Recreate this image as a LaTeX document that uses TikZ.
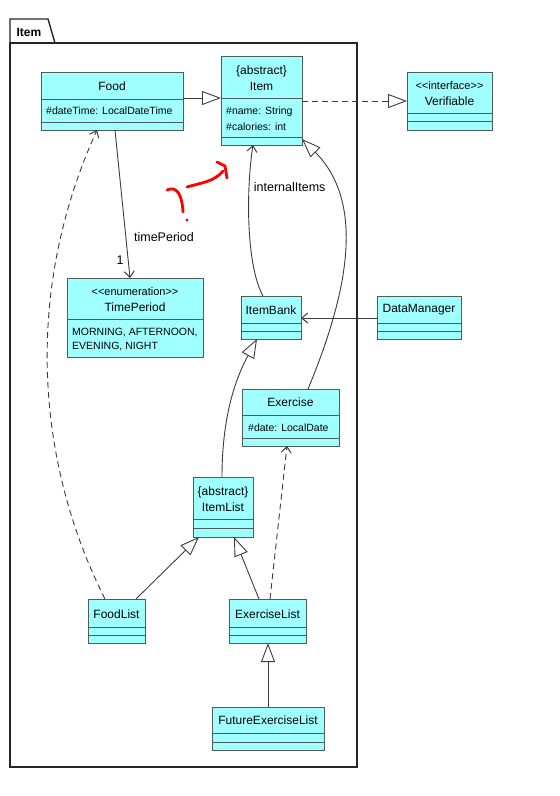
\documentclass[tikz,border=0pt]{standalone}
\usepackage{fontspec}
\setmainfont{Liberation Sans}
\usetikzlibrary{arrows.meta,positioning}
\definecolor{clsfill}{RGB}{160,255,255}
\definecolor{clsdraw}{RGB}{80,92,92}
\definecolor{linkgray}{RGB}{60,60,60}
\tikzset{
  cls/.style={draw=clsdraw, fill=clsfill, line width=0.9pt, inner sep=0pt, anchor=north west},
  divider/.style={draw=clsdraw, line width=0.9pt},
  clsname/.style={inner sep=0pt, font=\fontsize{12}{14}\selectfont},
  clsattr/.style={inner sep=0pt, anchor=west, font=\fontsize{10.5}{12}\selectfont},
  edgelabel/.style={inner sep=0pt, font=\fontsize{12.5}{14}\selectfont},
  link/.style={draw=linkgray, line width=0.9pt},
  inherit/.style={link, -{Triangle[open, length=19pt, width=14pt, fill=white]}},
  realize/.style={inherit, dash pattern=on 6pt off 4pt},
  assoc/.style={link, -{Straight Barb[length=6pt, width=10pt, line width=1pt]}},
  depend/.style={assoc, dash pattern=on 6pt off 4pt},
  scribble/.style={red, line width=2.8pt, line cap=round, line join=round},
}

\begin{document}
\begin{tikzpicture}[x=1pt, y=-1pt]
  \useasboundingbox (0,0) rectangle (560,796);

  % Package frame
  \draw[draw=black!85, line width=1.4pt] (10,43) rectangle (357,767);
  \draw[draw=black!85, line width=1.4pt] (10,43) -- (10,19) -- (48,19) -- (55,43);
  \node[inner sep=0pt, font=\bfseries\fontsize{12}{14}\selectfont] (pkg) at (29,32) {Item};

  % Classes
  \node[cls, minimum width=142pt, minimum height=58pt] (food) at (41,72) {};
  \draw[divider] (41,99) -- (183,99);
  \draw[divider] (41,122) -- (183,122);
  \node[clsname] (foodname) at (112,86) {Food};
  \node[clsattr] (foodattr) at (46,110.5) {\#dateTime: LocalDateTime};

  \node[cls, minimum width=81pt, minimum height=89pt] (item) at (221,56) {};
  \draw[divider] (221,98) -- (302,98);
  \draw[divider] (221,137) -- (302,137);
  \node[clsname] (itemabs) at (261.5,71) {\{abstract\}};
  \node[clsname] (itemname) at (261.5,86.5) {Item};
  \node[clsattr] (itemattra) at (226,112) {\#name: String};
  \node[clsattr] (itemattrb) at (226,126.5) {\#calories: int};

  \node[cls, minimum width=85pt, minimum height=58pt] (verif) at (407,72) {};
  \draw[divider] (407,113) -- (492,113);
  \draw[divider] (407,121) -- (492,121);
  \node[clsname, font=\fontsize{11}{13}\selectfont] (verifster) at (449.5,86) {<{}<interface>{}>};
  \node[clsname] (verifname) at (449.5,101) {Verifiable};

  \node[cls, minimum width=136pt, minimum height=79pt] (period) at (67,278) {};
  \draw[divider] (67,319) -- (203,319);
  \node[clsname, font=\fontsize{11}{13}\selectfont] (periodster) at (135,292) {<{}<enumeration>{}>};
  \node[clsname] (periodname) at (135,307) {TimePeriod};
  \node[clsattr] (periodvala) at (72,332) {MORNING, AFTERNOON,};
  \node[clsattr] (periodvalb) at (72,346.5) {EVENING, NIGHT};

  \node[cls, minimum width=60pt, minimum height=43pt] (bank) at (241,296) {};
  \draw[divider] (241,323) -- (301,323);
  \draw[divider] (241,331) -- (301,331);
  \node[clsname] (bankname) at (271,310) {ItemBank};

  \node[cls, minimum width=84pt, minimum height=43pt] (manager) at (377,296) {};
  \draw[divider] (377,323) -- (461,323);
  \draw[divider] (377,331) -- (461,331);
  \node[clsname] (managername) at (419,310) {DataManager};

  \node[cls, minimum width=97pt, minimum height=57pt] (exercise) at (242,389) {};
  \draw[divider] (242,415) -- (339,415);
  \draw[divider] (242,438) -- (339,438);
  \node[clsname] (exercisename) at (290.5,402.5) {Exercise};
  \node[clsattr] (exerciseattr) at (248,427.5) {\#date: LocalDate};

  \node[cls, minimum width=60pt, minimum height=60pt] (list) at (193,477) {};
  \draw[divider] (193,519) -- (253,519);
  \draw[divider] (193,528) -- (253,528);
  \node[clsname] (listabs) at (223,492) {\{abstract\}};
  \node[clsname] (listname) at (223,507) {ItemList};

  \node[cls, minimum width=57pt, minimum height=44pt] (foodlist) at (88,599) {};
  \draw[divider] (88,627) -- (145,627);
  \draw[divider] (88,635) -- (145,635);
  \node[clsname] (foodlistname) at (116.5,614) {FoodList};

  \node[cls, minimum width=77pt, minimum height=44pt] (exlist) at (229,599) {};
  \draw[divider] (229,627) -- (306,627);
  \draw[divider] (229,635) -- (306,635);
  \node[clsname] (exlistname) at (267.5,614) {ExerciseList};

  \node[cls, minimum width=112pt, minimum height=43pt] (future) at (212,707) {};
  \draw[divider] (212,733) -- (324,733);
  \draw[divider] (212,742) -- (324,742);
  \node[clsname] (futurename) at (268,720.5) {FutureExerciseList};

  % Connectors
  \coordinate (foodout) at (183,98);
  \coordinate (itemin) at (221,98);
  \draw[inherit] (foodout) -- (itemin);
  \coordinate (itemout) at (302,101);
  \coordinate (verifin) at (407,101);
  \draw[realize] (itemout) -- (verifin);

  \coordinate (foodbot) at (115,130);
  \coordinate (periodtop) at (130,278);
  \draw[assoc] (foodbot) -- (periodtop);
  \node[edgelabel] (periodrole) at (164,237.5) {timePeriod};
  \node[edgelabel] (periodmult) at (120,260) {1};

  \coordinate (banktop) at (263,296);
  \coordinate (itembot) at (253,145);
  \draw[assoc] (banktop) .. controls (246,265) and (246,190) .. (itembot);
  \node[edgelabel] (bankrole) at (289.7,187) {internalItems};

  \coordinate (extop) at (308,389);
  \coordinate (itemside) at (302,139);
  \draw[inherit] (extop) .. controls (345,300) and (368,205) .. (itemside);

  \coordinate (managerin) at (377,318);
  \coordinate (bankside) at (301,318);
  \draw[assoc] (managerin) -- (bankside);

  \coordinate (listtop) at (222,477);
  \coordinate (bankbot) at (257,339);
  \draw[inherit] (listtop) .. controls (222,425) and (232,385) .. (bankbot);

  \coordinate (foodlisttop) at (136,599);
  \coordinate (listbotl) at (199,537);
  \draw[inherit] (foodlisttop) -- (listbotl);
  \coordinate (exlisttop) at (259,599);
  \coordinate (listbotr) at (234,537);
  \draw[inherit] (exlisttop) -- (listbotr);

  \coordinate (futuretop) at (268,707);
  \coordinate (exlistbot) at (268,643);
  \draw[inherit] (futuretop) -- (exlistbot);

  \coordinate (exlistdep) at (270,599);
  \coordinate (exercisebot) at (287,446);
  \draw[depend] (exlistdep) -- (exercisebot);

  \coordinate (foodlistdep) at (105,599);
  \coordinate (foodbotl) at (97,130);
  \draw[depend] (foodlistdep) .. controls (40,470) and (20,300) .. (foodbotl);

  % Red scribble
  \draw[scribble] (167,190) .. controls (176,186) and (182,193) .. (183,212);
  \fill[red] (187,220) circle (1.7pt);
  \draw[scribble] (187,187) .. controls (200,183) and (214,182) .. (223,171);
  \draw[scribble] (217,162) -- (225,166) -- (227,178);
\end{tikzpicture}
\end{document}
